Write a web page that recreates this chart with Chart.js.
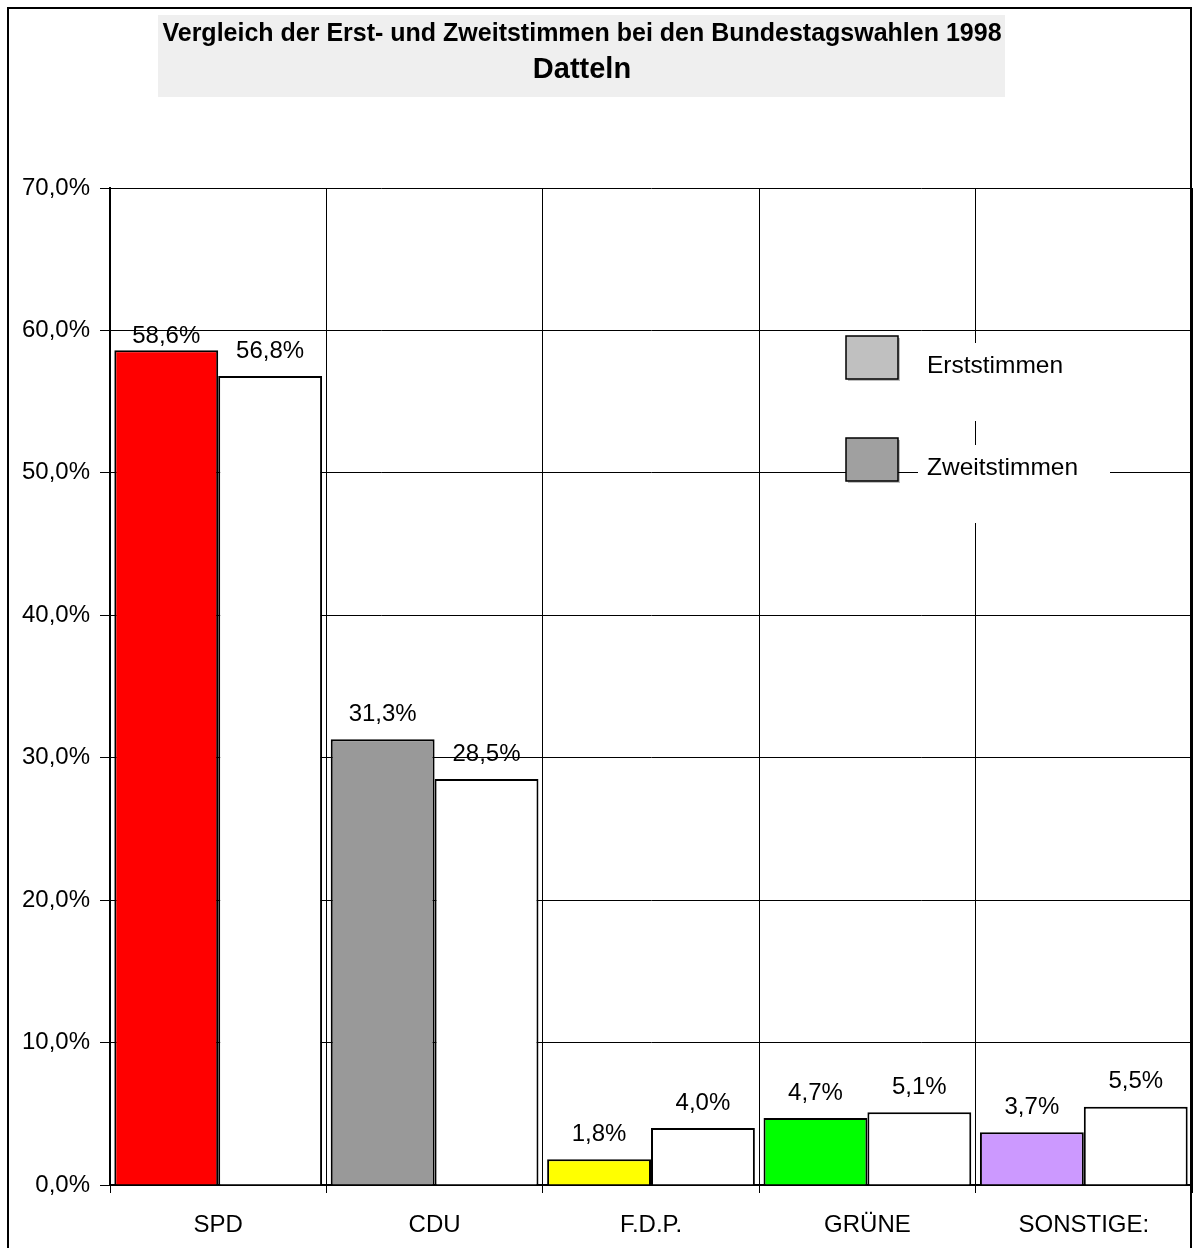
<!DOCTYPE html>
<html>
<head>
<meta charset="utf-8">
<title>Datteln 1998</title>
<script src="https://cdn.jsdelivr.net/npm/chart.js@4/dist/chart.umd.min.js"></script>
<style>
  html, body { margin: 0; padding: 0; background: #fff; }
  #wrap { width: 1193px; height: 1248px; position: relative; }
</style>
</head>
<body>
<div id="wrap"><canvas id="chart"></canvas></div>
<script>
// ── Data ───────────────────────────────────────────
const parties      = ['SPD', 'CDU', 'F.D.P.', 'GRÜNE', 'SONSTIGE:'];
const erststimmen  = [58.6, 31.3, 1.8, 4.7, 3.7];
const zweitstimmen = [56.8, 28.5, 4.0, 5.1, 5.5];
const partyColors  = ['#ff0000', '#999999', '#ffff00', '#00ff00', '#cc99ff'];
const titleLines   = ['Vergleich der Erst- und Zweitstimmen bei den Bundestagswahlen 1998', 'Datteln'];

const FONT = '"Liberation Sans", Arial, sans-serif';
const fmt = v => v.toFixed(1).replace('.', ',') + '%';

// ── Plugins ────────────────────────────────────────
const framePlugin = {
  id: 'frame',
  beforeDraw(chart) {
    const ctx = chart.ctx;
    ctx.save();
    ctx.fillStyle = '#fff';
    ctx.fillRect(0, 0, chart.width, chart.height);
    // outer border
    ctx.strokeStyle = '#000';
    ctx.lineWidth = 2;
    ctx.strokeRect(8, 8, 1183, 1300);
    // title box
    ctx.fillStyle = '#efefef';
    ctx.fillRect(158, 15, 847, 82);
    ctx.fillStyle = '#000';
    ctx.textAlign = 'center';
    ctx.textBaseline = 'middle';
    ctx.font = 'bold 25px ' + FONT;
    ctx.fillText(titleLines[0], 582, 34);
    ctx.font = 'bold 29px ' + FONT;
    ctx.fillText(titleLines[1], 582, 70);
    ctx.restore();
  }
};

const valueLabels = {
  id: 'valueLabels',
  afterDatasetsDraw(chart) {
    const ctx = chart.ctx;
    const top60 = chart.scales.y.getPixelForValue(60);
    ctx.save();
    ctx.font = '24px ' + FONT;
    ctx.fillStyle = '#000';
    ctx.textAlign = 'center';
    ctx.textBaseline = 'middle';
    chart.data.datasets.forEach((ds, i) => {
      chart.getDatasetMeta(i).data.forEach((bar, j) => {
        // labels are kept below the 60% line, like the original
        const y = Math.max(bar.y - 25, top60 + 6);
        ctx.fillText(fmt(ds.data[j]), bar.x, y);
      });
    });
    ctx.restore();
  }
};

const boxLegend = {
  id: 'boxLegend',
  afterDatasetsDraw(chart) {
    const ctx = chart.ctx;
    const items = chart.data.datasets.map(ds => ({ text: ds.label, color: ds.legendColor }));
    ctx.save();
    items.forEach((it, i) => {
      const top = 336 + i * 102;
      // white box behind the text
      ctx.fillStyle = '#fff';
      ctx.fillRect(918, top + 7, 192, 78);
      // swatch
      ctx.fillStyle = 'rgba(0,0,0,0.25)';
      ctx.fillRect(848, top + 2, 52, 43);
      ctx.fillStyle = it.color;
      ctx.fillRect(846, top, 52, 43);
      ctx.strokeStyle = '#000';
      ctx.lineWidth = 1.5;
      ctx.strokeRect(846, top, 52, 43);
      ctx.fillStyle = '#000';
      ctx.font = '24.5px ' + FONT;
      ctx.textAlign = 'left';
      ctx.textBaseline = 'middle';
      ctx.fillText(it.text, 927, top + 30);
    });
    ctx.restore();
  }
};

// ── Chart ──────────────────────────────────────────
new Chart(document.getElementById('chart'), {
  type: 'bar',
  data: {
    labels: parties,
    datasets: [
      {
        label: 'Erststimmen',
        data: erststimmen,
        backgroundColor: partyColors,
        legendColor: '#c0c0c0',
        borderColor: '#000',
        borderWidth: 2
      },
      {
        label: 'Zweitstimmen',
        data: zweitstimmen,
        backgroundColor: '#ffffff',
        legendColor: '#a0a0a0',
        borderColor: '#000',
        borderWidth: 2
      }
    ]
  },
  options: {
    responsive: true,
    maintainAspectRatio: false,
    animation: false,
    layout: { padding: { top: 188, right: 1, left: 0, bottom: 0 } },
    datasets: { bar: { categoryPercentage: 0.96, barPercentage: 1 } },
    plugins: {
      legend: { display: false },
      title: { display: false },
      tooltip: { enabled: false }
    },
    scales: {
      x: {
        grid: { color: '#000', lineWidth: 1, tickLength: 8, offset: true },
        border: { color: '#000', width: 2 },
        ticks: { color: '#000', font: { family: FONT, size: 24 }, padding: 18, maxRotation: 0 },
        afterFit: s => { s.height = 63; }
      },
      y: {
        min: 0,
        max: 70,
        grid: { color: '#000', lineWidth: 1, tickLength: 10 },
        border: { color: '#000', width: 2 },
        ticks: {
          stepSize: 10,
          color: '#000',
          font: { family: FONT, size: 24 },
          padding: 10,
          callback: v => fmt(v)
        },
        afterFit: s => { s.width = 110; }
      }
    }
  },
  plugins: [framePlugin, valueLabels, boxLegend]
});
</script>
</body>
</html>
